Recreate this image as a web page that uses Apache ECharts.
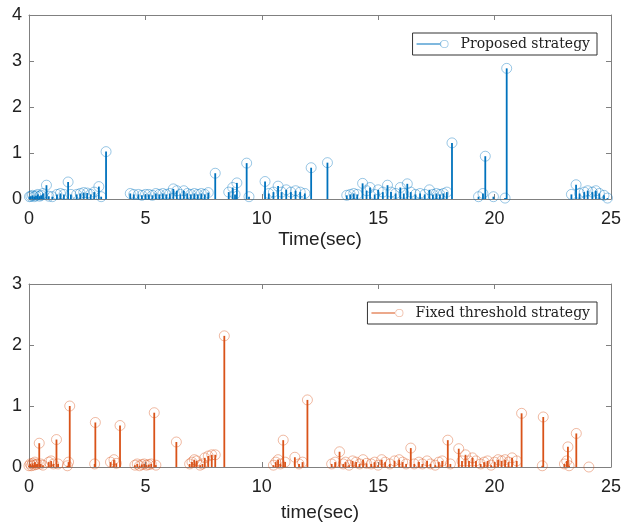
<!DOCTYPE html>
<html>
<head>
<meta charset="utf-8">
<script src="https://cdn.jsdelivr.net/npm/echarts@6/dist/echarts.min.js"></script>
<style>
  html, body { margin: 0; padding: 0; background: #fff; }
  #chart { width: 624px; height: 525px; }
</style>
</head>
<body>
<div id="chart"></div>
<script>
// proposed strategy: stem times (sec) and values
const propTimes = [0.02, 0.08, 0.15, 0.22, 0.30, 0.38, 0.45, 0.52, 0.60, 0.75, 0.85, 1.00, 1.20, 1.35, 1.50, 1.68, 1.80,
    2.05, 2.20, 2.35, 2.50, 2.65, 2.80, 3.00, 3.10, 3.31,
    4.35, 4.50, 4.70, 4.85, 5.00, 5.15, 5.30, 5.45, 5.60, 5.75, 5.90, 6.05, 6.20, 6.35, 6.50, 6.65, 6.80, 6.95,
    7.10, 7.25, 7.40, 7.55, 7.70, 8.00, 8.58, 8.75, 8.85, 8.93, 9.35, 9.45,
    10.14, 10.30, 10.50, 10.70, 10.85, 11.05, 11.25, 11.45, 11.65, 11.85, 12.12, 12.82,
    13.65, 13.80, 13.95, 14.10, 14.33, 14.50, 14.65, 14.85, 15.00, 15.20, 15.40, 15.55, 15.75, 15.95, 16.10, 16.25,
    16.40, 16.60, 16.80, 17.00, 17.20, 17.35, 17.50, 17.65, 17.80, 17.95, 18.17,
    19.31, 19.50, 19.60, 19.95, 20.45, 20.52,
    23.30, 23.50, 23.65, 23.85, 24.00, 24.20, 24.35, 24.50, 24.70, 24.85];
const propValues = [0.05, 0.06, 0.08, 0.05, 0.07, 0.10, 0.06, 0.08, 0.12, 0.30, 0.06, 0.05, 0.10, 0.12, 0.10, 0.37, 0.10,
    0.10, 0.12, 0.14, 0.13, 0.10, 0.15, 0.27, 0.05, 1.03,
    0.12, 0.10, 0.10, 0.08, 0.10, 0.10, 0.08, 0.12, 0.10, 0.12, 0.10, 0.12, 0.22, 0.18, 0.10, 0.18, 0.12, 0.10,
    0.12, 0.10, 0.12, 0.10, 0.14, 0.56, 0.15, 0.25, 0.10, 0.35, 0.78, 0.05,
    0.38, 0.12, 0.15, 0.28, 0.15, 0.20, 0.15, 0.18, 0.15, 0.12, 0.68, 0.79,
    0.08, 0.10, 0.12, 0.10, 0.34, 0.18, 0.25, 0.10, 0.20, 0.15, 0.30, 0.15, 0.12, 0.25, 0.12, 0.33,
    0.15, 0.10, 0.12, 0.10, 0.20, 0.10, 0.12, 0.10, 0.12, 0.15, 1.22,
    0.05, 0.12, 0.93, 0.05, 0.02, 2.84,
    0.10, 0.31, 0.12, 0.15, 0.18, 0.15, 0.18, 0.12, 0.08, 0.02];

// fixed threshold strategy
const fixedTimes = [0.00, 0.05, 0.10, 0.15, 0.20, 0.25, 0.30, 0.35, 0.44, 0.50, 0.60, 0.85, 0.95, 1.05, 1.18, 1.25,
    1.65, 1.70, 1.75, 2.82, 2.85, 3.50, 3.65, 3.75, 3.91,
    4.55, 4.65, 4.75, 4.85, 4.95, 5.05, 5.15, 5.25, 5.38, 5.45, 6.33,
    6.90, 7.00, 7.10, 7.20, 7.35, 7.45, 7.55, 7.70, 7.85, 8.00, 8.39,
    10.50, 10.60, 10.70, 10.80, 10.92, 11.00, 11.42, 11.60, 11.75, 11.96,
    13.00, 13.15, 13.34, 13.50, 13.60, 13.75, 13.90, 14.05, 14.20, 14.35, 14.50, 14.70, 14.85, 15.00, 15.15, 15.30,
    15.50, 15.70, 15.90, 16.05, 16.20, 16.40, 16.55, 16.75, 16.90, 17.10, 17.25, 17.45, 17.60, 17.75, 17.99, 18.10,
    18.46, 18.60, 18.75, 18.90, 19.05, 19.20, 19.40, 19.55, 19.70, 19.85, 20.00, 20.15, 20.30, 20.45, 20.60, 20.75,
    20.95, 21.16, 22.05, 22.09, 23.00, 23.10, 23.15, 23.20, 23.51, 24.05];
const fixedValues = [0.02, 0.05, 0.02, 0.06, 0.03, 0.08, 0.04, 0.05, 0.39, 0.05, 0.03, 0.08, 0.10, 0.05, 0.45, 0.05,
    0.02, 0.08, 1.00, 0.05, 0.73, 0.08, 0.12, 0.06, 0.68,
    0.03, 0.05, 0.02, 0.04, 0.05, 0.03, 0.04, 0.05, 0.89, 0.03, 0.41,
    0.05, 0.08, 0.12, 0.10, 0.03, 0.05, 0.15, 0.18, 0.20, 0.20, 2.15,
    0.03, 0.08, 0.12, 0.05, 0.44, 0.08, 0.16, 0.05, 0.08, 1.10,
    0.05, 0.08, 0.25, 0.05, 0.08, 0.03, 0.10, 0.08, 0.05, 0.12, 0.06, 0.05, 0.08, 0.03, 0.12, 0.08,
    0.05, 0.10, 0.12, 0.08, 0.05, 0.31, 0.05, 0.08, 0.05, 0.10, 0.05, 0.03, 0.08, 0.10, 0.44, 0.05,
    0.30, 0.10, 0.20, 0.10, 0.15, 0.10, 0.05, 0.08, 0.10, 0.03, 0.08, 0.12, 0.10, 0.12, 0.08, 0.15,
    0.10, 0.88, 0.02, 0.82, 0.05, 0.10, 0.33, 0.02, 0.55, 0.00];

const BLUE = '#0072BD', BLUE_PALE = 'rgba(0,114,189,0.4)';
const ORANGE = '#D95319', ORANGE_PALE = 'rgba(217,83,25,0.4)';

let myChart = echarts.init(document.getElementById('chart'));

// matlab-like stem: line from 0 to value, hollow circle on top
function stemRenderer(lineColor, ringColor) {
    return function (params, api) {
        let p0 = api.coord([api.value(0), 0]);
        let p1 = api.coord([api.value(0), api.value(1)]);
        return {
            type: 'group',
            children: [
                {
                    type: 'line',
                    shape: { x1: p0[0], y1: p0[1], x2: p1[0], y2: p1[1] },
                    style: { stroke: lineColor, lineWidth: 1.8 }
                },
                {
                    type: 'circle',
                    shape: { cx: p1[0], cy: p1[1], r: 5 },
                    style: { fill: null, stroke: ringColor, lineWidth: 1 }
                }
            ]
        };
    };
}

function pairs(xs, ys) {
    return xs.map(function (x, i) { return [x, ys[i]]; });
}

// legend icon: line + ring
const stemIcon = 'path://M0,4.4 L27,4.4 L27,5.6 L0,5.6 Z M26,5 a4.5,4.5 0 1,0 9,0 a4.5,4.5 0 1,0 -9,0 Z M26.9,5 a3.6,3.6 0 1,1 7.2,0 a3.6,3.6 0 1,1 -7.2,0 Z';

function iconFill(c, pale) {
    return {
        type: 'linear', x: 0, y: 0, x2: 1, y2: 0,
        colorStops: [
            { offset: 0, color: c }, { offset: 0.75, color: c },
            { offset: 0.75, color: pale }, { offset: 1, color: pale }
        ]
    };
}

const tickFont = { fontFamily: 'Liberation Sans', fontSize: 18, color: '#222' };
const axisGray = '#808080';

function xAxisBottom(gridIndex, name, nameGap) {
    return {
        gridIndex: gridIndex, type: 'value', position: 'bottom',
        min: 0, max: 25, interval: 5,
        name: name, nameLocation: 'middle', nameGap: nameGap,
        nameTextStyle: { fontFamily: 'Liberation Sans', fontSize: 19, color: '#222' },
        axisLine: { show: true, onZero: false, lineStyle: { color: axisGray } },
        axisTick: { inside: true, length: 5, lineStyle: { color: axisGray } },
        axisLabel: Object.assign({ margin: 11 }, tickFont),
        splitLine: { show: false }
    };
}
function xAxisTop(gridIndex) {
    return {
        gridIndex: gridIndex, type: 'value', position: 'top',
        min: 0, max: 25, interval: 5,
        axisLine: { show: true, onZero: false, lineStyle: { color: axisGray } },
        axisTick: { inside: true, length: 5, lineStyle: { color: axisGray } },
        axisLabel: { show: false },
        splitLine: { show: false }
    };
}
function yAxisLeft(gridIndex, max) {
    return {
        gridIndex: gridIndex, type: 'value', position: 'left',
        min: 0, max: max, interval: 1,
        axisLine: { show: true, onZero: false, lineStyle: { color: axisGray } },
        axisTick: { show: true, inside: true, length: 5, lineStyle: { color: axisGray } },
        axisLabel: Object.assign({ margin: 7 }, tickFont),
        splitLine: { show: false }
    };
}
function yAxisRight(gridIndex, max) {
    return {
        gridIndex: gridIndex, type: 'value', position: 'right',
        min: 0, max: max, interval: 1,
        axisLine: { show: true, onZero: false, lineStyle: { color: axisGray } },
        axisTick: { show: true, inside: true, length: 5, lineStyle: { color: axisGray } },
        axisLabel: { show: false },
        splitLine: { show: false }
    };
}

function legendBox(top, name, c, pale) {
    return {
        top: top, right: 27,
        data: [{ name: name, icon: stemIcon, itemStyle: { color: iconFill(c, pale) } }],
        itemWidth: 32, itemHeight: 9, itemGap: 0,
        padding: [4, 7, 4, 4],
        borderColor: '#333', borderWidth: 1, backgroundColor: '#fff',
        selectedMode: false,
        textStyle: { fontFamily: 'DejaVu Serif', fontSize: 14, color: '#222', padding: [0, 0, 0, 7] }
    };
}

myChart.setOption(option = {
    animation: false,
    backgroundColor: '#fff',
    grid: [
        { left: 29, right: 9, top: 15, height: 184 },
        { left: 29, right: 9, top: 284, height: 183 }
    ],
    legend: [
        legendBox(33, 'Proposed strategy', BLUE, BLUE_PALE),
        legendBox(302, 'Fixed threshold strategy', ORANGE, ORANGE_PALE)
    ],
    xAxis: [
        xAxisBottom(0, 'Time(sec)', 31),
        xAxisTop(0),
        xAxisBottom(1, 'time(sec)', 36),
        xAxisTop(1)
    ],
    yAxis: [
        yAxisLeft(0, 4),
        yAxisRight(0, 4),
        yAxisLeft(1, 3),
        yAxisRight(1, 3)
    ],
    series: [
        {
            name: 'Proposed strategy',
            type: 'custom',
            xAxisIndex: 0, yAxisIndex: 0,
            itemStyle: { color: BLUE },
            renderItem: stemRenderer(BLUE, BLUE_PALE),
            data: pairs(propTimes, propValues)
        },
        {
            name: 'Fixed threshold strategy',
            type: 'custom',
            xAxisIndex: 2, yAxisIndex: 2,
            itemStyle: { color: ORANGE },
            renderItem: stemRenderer(ORANGE, ORANGE_PALE),
            data: pairs(fixedTimes, fixedValues)
        }
    ]
});
</script>
</body>
</html>
